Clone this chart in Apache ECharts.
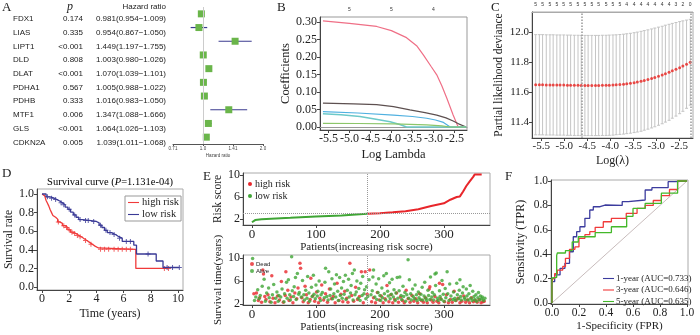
<!DOCTYPE html>
<html>
<head>
<meta charset="utf-8">
<script src="https://cdn.jsdelivr.net/npm/echarts@6/dist/echarts.min.js"></script>
<style>html,body{margin:0;padding:0;background:#fff}#main{width:700px;height:335px}</style>
</head>
<body>
<div id="main"></div>
<script>
// ---- A: univariate cox table + forest
const genes = ['FDX1', 'LIAS', 'LIPT1', 'DLD', 'DLAT', 'PDHA1', 'PDHB', 'MTF1', 'GLS', 'CDKN2A'];
const pValues = ['0.174', '0.335', '<0.001', '0.808', '<0.001', '0.567', '0.333', '0.006', '<0.001', '0.005'];
const hr = [0.981, 0.954, 1.449, 1.003, 1.070, 1.005, 1.016, 1.347, 1.064, 1.039];
const hrLow = [0.954, 0.867, 1.197, 0.980, 1.039, 0.988, 0.983, 1.088, 1.026, 1.011];
const hrHigh = [1.009, 1.050, 1.755, 1.026, 1.101, 1.022, 1.050, 1.666, 1.103, 1.068];

// ---- B: lasso coefficient paths [logLambda, coef]
const pathPink = [[-5.63, 0.303], [-5.0, 0.296], [-4.35, 0.287], [-4.0, 0.275], [-3.64, 0.255], [-3.4, 0.232], [-3.24, 0.206], [-3.05, 0.172], [-2.92, 0.149], [-2.8, 0.118], [-2.68, 0.082], [-2.53, 0.034], [-2.41, 0.0], [-2.22, 0.0]];
const pathBrown = [[-5.63, 0.068], [-4.9, 0.066], [-4.35, 0.064], [-3.95, 0.058], [-3.56, 0.049], [-3.2, 0.041], [-2.92, 0.034], [-2.7, 0.026], [-2.53, 0.017], [-2.4, 0.009], [-2.22, 0.0]];
const pathBlue = [[-5.63, 0.044], [-4.8, 0.040], [-3.95, 0.034], [-3.5, 0.030], [-3.16, 0.025], [-2.95, 0.020], [-2.76, 0.013], [-2.6, 0.0], [-2.22, 0.0]];
const pathTeal = [[-5.63, 0.038], [-5.2, 0.035], [-4.75, 0.030], [-4.4, 0.023], [-4.03, 0.015], [-3.8, 0.007], [-3.64, 0.0], [-2.22, 0.0]];
const pathGreen = [[-5.63, 0.0105], [-4.8, 0.0100], [-3.95, 0.009], [-3.16, 0.006], [-2.8, 0.003], [-2.6, 0.0], [-2.22, 0.0]];
const lambdaTicks = [-5.5, -5.0, -4.5, -4.0, -3.5, -3.0, -2.5];
const coefTicks = [0, 0.05, 0.10, 0.15, 0.20, 0.25, 0.30];
const dfTopPosB = [-5, -4, -3];
const dfTopB = ['5', '5', '4'];

// ---- C: cross validation
const lambdas = [-5.62, -5.54, -5.47, -5.39, -5.31, -5.24, -5.16, -5.09, -5.01, -4.93, -4.86, -4.78, -4.70, -4.63, -4.55, -4.48, -4.40, -4.32, -4.25, -4.17, -4.09, -4.02, -3.94, -3.87, -3.79, -3.71, -3.64, -3.56, -3.48, -3.41, -3.33, -3.26, -3.18, -3.10, -3.03, -2.95, -2.87, -2.80, -2.72, -2.65, -2.57, -2.49, -2.42, -2.34, -2.26];
const cvMean = [11.648, 11.648, 11.648, 11.647, 11.647, 11.647, 11.646, 11.646, 11.646, 11.645, 11.645, 11.644, 11.644, 11.643, 11.643, 11.643, 11.643, 11.643, 11.643, 11.644, 11.644, 11.645, 11.646, 11.648, 11.650, 11.652, 11.655, 11.658, 11.662, 11.666, 11.671, 11.677, 11.683, 11.690, 11.697, 11.705, 11.713, 11.722, 11.731, 11.741, 11.751, 11.762, 11.773, 11.785, 11.798];
const cvUpper = [11.982, 11.982, 11.982, 11.981, 11.981, 11.981, 11.980, 11.980, 11.980, 11.979, 11.979, 11.978, 11.978, 11.977, 11.977, 11.977, 11.977, 11.977, 11.977, 11.978, 11.978, 11.979, 11.980, 11.981, 11.983, 11.985, 11.988, 11.991, 11.995, 11.999, 12.004, 12.009, 12.014, 12.020, 12.026, 12.032, 12.038, 12.045, 12.051, 12.057, 12.063, 12.069, 12.074, 12.079, 12.084];
const cvLower = [11.314, 11.314, 11.314, 11.313, 11.313, 11.313, 11.312, 11.312, 11.312, 11.311, 11.311, 11.310, 11.310, 11.309, 11.309, 11.309, 11.309, 11.309, 11.309, 11.310, 11.310, 11.311, 11.312, 11.315, 11.317, 11.319, 11.322, 11.325, 11.329, 11.333, 11.338, 11.345, 11.352, 11.360, 11.368, 11.378, 11.388, 11.399, 11.411, 11.425, 11.439, 11.455, 11.471, 11.491, 11.512];
const devianceTicks = [11.4, 11.6, 11.8, 12.0];
const dfTopPosC = [-5.62, -5.47, -5.31, -5.16, -5.01, -4.86, -4.70, -4.55, -4.40, -4.25, -4.09, -3.94, -3.79, -3.64, -3.48, -3.33, -3.18, -3.03, -2.87, -2.72, -2.57, -2.42, -2.26];
const dfTopC = ['5', '5', '5', '5', '5', '5', '5', '5', '5', '5', '5', '5', '5', '4', '4', '4', '4', '4', '4', '4', '3', '2', '0'];
const lambdaMin = -4.61, lambda1se = -2.24;

// ---- D: Kaplan-Meier [years, survival]
const kmHigh = [[0, 1.0], [0.1, 0.98], [0.2, 0.96], [0.3, 0.93], [0.4, 0.90], [0.5, 0.87], [0.6, 0.83], [0.7, 0.80], [0.8, 0.77], [0.9, 0.75], [1.0, 0.73], [1.15, 0.70], [1.3, 0.685], [1.5, 0.66], [1.7, 0.64], [1.9, 0.615], [2.1, 0.59], [2.3, 0.575], [2.5, 0.555], [2.7, 0.54], [2.9, 0.52], [3.1, 0.50], [3.3, 0.48], [3.5, 0.46], [3.7, 0.44], [3.9, 0.42], [4.15, 0.405], [6.9, 0.20], [9.3, 0.20]];
const kmLow = [[0, 1.0], [0.3, 0.97], [0.6, 0.955], [0.9, 0.94], [1.1, 0.925], [1.3, 0.905], [1.5, 0.885], [1.7, 0.86], [1.9, 0.835], [2.1, 0.805], [2.3, 0.775], [2.5, 0.75], [2.7, 0.725], [3.0, 0.715], [3.6, 0.705], [4.0, 0.69], [4.2, 0.665], [4.4, 0.64], [4.6, 0.61], [4.8, 0.585], [5.1, 0.565], [5.4, 0.545], [5.6, 0.525], [5.9, 0.49], [6.75, 0.45], [6.95, 0.355], [8.4, 0.28], [8.9, 0.21], [10.1, 0.21]];
const censorHigh = [[1.2, 0.70], [1.6, 0.66], [1.8, 0.64], [2.0, 0.615], [2.2, 0.59], [2.4, 0.575], [2.6, 0.555], [2.8, 0.54], [3.2, 0.50], [3.6, 0.46], [4.3, 0.405], [4.6, 0.405], [4.9, 0.405], [5.3, 0.405], [5.6, 0.405], [5.9, 0.405], [6.2, 0.405], [6.5, 0.405], [9.0, 0.20], [9.3, 0.20]];
const censorLow = [[0.4, 0.97], [0.7, 0.955], [1.0, 0.94], [1.4, 0.905], [1.6, 0.885], [2.0, 0.835], [2.4, 0.775], [2.8, 0.725], [3.2, 0.715], [3.4, 0.715], [3.8, 0.705], [4.3, 0.665], [4.7, 0.61], [5.0, 0.585], [5.3, 0.565], [5.7, 0.525], [6.2, 0.49], [6.5, 0.49], [7.8, 0.355], [9.2, 0.21], [9.6, 0.21], [10.1, 0.21]];
const timeTicks = [0, 2, 4, 6, 8, 10];
const rateTicks = [0, 0.2, 0.4, 0.6, 0.8, 1.0];

// ---- E: risk curve and survival status
const riskCut = 180, riskCutScore = 2.95;
const riskLow = [[0, 1.4], [2, 1.65], [5, 1.8], [15, 1.95], [30, 2.05], [60, 2.2], [100, 2.45], [140, 2.65], [180, 2.95]];
const riskHigh = [[180, 2.95], [200, 3.05], [220, 3.2], [240, 3.4], [260, 3.75], [280, 4.35], [300, 4.85], [310, 5.5], [320, 6.0], [325, 6.1], [330, 7.0], [335, 8.0], [340, 8.8], [346, 9.7], [348, 10.1], [359, 10.1]];
const dead = [[3, 3.8], [7, 3.9], [10, 2.6], [12, 3.1], [15, 2.3], [17, 7.9], [18, 7.2], [20, 3.3], [22, 2.8], [25, 3.6], [28, 2.4], [31, 6.9], [33, 3.0], [36, 2.2], [40, 3.4], [43, 2.7], [46, 5.9], [49, 2.3], [52, 3.5], [53, 7.6], [56, 4.4], [58, 2.6], [61, 3.2], [64, 2.2], [67, 3.9], [70, 2.9], [72, 4.8], [75, 9.1], [76, 8.2], [78, 3.1], [80, 2.4], [83, 5.1], [85, 3.6], [88, 2.2], [91, 2.8], [92, 6.5], [95, 3.4], [98, 2.5], [101, 4.1], [104, 2.2], [106, 3.0], [109, 5.3], [112, 2.7], [115, 3.8], [118, 2.3], [121, 4.6], [124, 2.9], [127, 3.3], [130, 2.2], [133, 5.6], [136, 2.6], [139, 3.7], [142, 2.4], [145, 4.2], [148, 3.0], [150, 2.3], [153, 9.1], [156, 3.5], [159, 2.5], [162, 4.9], [165, 2.8], [168, 3.3], [171, 7.6], [174, 2.2], [177, 7.6], [180, 3.7], [184, 7.9], [187, 2.4], [190, 3.1], [193, 2.2], [196, 4.0], [199, 2.7], [202, 3.4], [205, 2.2], [208, 2.9], [211, 5.2], [214, 2.4], [217, 3.6], [220, 2.2], [223, 2.8], [226, 3.9], [229, 2.3], [232, 3.2], [235, 2.6], [238, 2.2], [241, 4.4], [244, 2.9], [247, 2.3], [250, 3.5], [253, 2.5], [256, 2.9], [259, 2.2], [262, 3.8], [265, 2.6], [268, 2.3], [271, 3.1], [274, 2.2], [277, 4.6], [278, 5.0], [280, 2.7], [283, 2.3], [286, 3.3], [289, 2.5], [292, 2.2], [293, 5.6], [295, 2.9], [298, 5.4], [301, 2.4], [304, 3.6], [307, 2.2], [310, 2.8], [313, 2.3], [316, 4.2], [319, 2.6], [322, 3.0], [325, 2.2], [328, 2.5], [331, 3.4], [334, 2.3], [337, 2.7], [340, 2.2], [343, 3.1], [346, 2.4], [349, 2.6], [352, 2.3], [355, 2.8], [358, 2.2], [361, 2.4], [363, 2.5]];
const alive = [[1, 9.9], [4, 2.6], [6, 3.2], [9, 4.5], [11, 2.9], [13, 3.5], [16, 5.1], [19, 6.3], [21, 2.5], [23, 3.9], [26, 4.8], [27, 3.1], [30, 2.3], [32, 3.6], [34, 5.4], [37, 3.0], [39, 4.1], [41, 2.5], [42, 3.5], [45, 3.2], [47, 4.6], [50, 2.4], [51, 3.8], [54, 5.8], [55, 3.0], [57, 6.2], [59, 3.6], [60, 2.7], [62, 10.2], [63, 4.3], [65, 3.3], [66, 5.0], [68, 6.6], [69, 2.8], [71, 7.3], [73, 3.7], [74, 4.0], [77, 3.2], [79, 6.1], [81, 3.6], [82, 2.7], [84, 4.4], [86, 3.0], [87, 6.8], [89, 3.9], [90, 2.5], [93, 4.9], [94, 3.3], [96, 7.0], [97, 3.7], [99, 2.9], [100, 5.3], [102, 3.4], [103, 4.2], [105, 6.0], [107, 2.6], [108, 3.6], [110, 4.0], [113, 3.1], [114, 5.8], [115, 8.2], [117, 3.3], [119, 2.7], [120, 7.6], [122, 3.5], [123, 4.6], [125, 6.4], [126, 2.9], [128, 3.8], [129, 5.5], [131, 3.2], [132, 7.1], [134, 4.2], [135, 2.6], [137, 6.6], [138, 3.5], [140, 4.8], [141, 3.0], [143, 5.9], [144, 3.7], [146, 7.0], [147, 2.8], [149, 4.4], [151, 6.3], [152, 3.2], [154, 3.9], [155, 5.2], [157, 7.3], [158, 2.7], [160, 7.9], [161, 3.6], [163, 4.1], [164, 6.0], [166, 3.0], [167, 4.7], [169, 2.6], [170, 5.6], [172, 3.5], [173, 6.8], [175, 3.8], [176, 4.5], [178, 2.9], [179, 5.0], [181, 3.3], [183, 6.2], [186, 3.6], [188, 4.3], [189, 6.7], [190, 7.9], [192, 3.2], [194, 5.5], [195, 2.8], [197, 4.0], [198, 6.4], [200, 3.5], [201, 2.6], [203, 4.8], [204, 3.1], [206, 6.9], [207, 3.8], [209, 2.7], [210, 7.3], [212, 4.2], [213, 3.4], [215, 5.7], [216, 2.9], [218, 3.7], [219, 6.3], [221, 3.2], [222, 4.5], [224, 2.6], [225, 3.9], [227, 6.6], [228, 3.0], [230, 4.3], [231, 6.7], [233, 3.5], [234, 2.8], [236, 5.1], [237, 3.3], [239, 4.0], [240, 2.5], [242, 3.6], [244, 9.7], [245, 3.0], [246, 6.2], [248, 3.8], [249, 2.7], [251, 4.6], [252, 3.3], [254, 2.9], [255, 5.3], [257, 3.6], [258, 2.6], [260, 4.1], [261, 3.1], [263, 2.8], [264, 3.7], [266, 4.9], [267, 2.7], [269, 3.4], [270, 5.8], [272, 3.0], [273, 2.6], [275, 4.4], [276, 3.5], [278, 2.8], [279, 6.7], [281, 3.2], [282, 4.0], [284, 2.7], [285, 3.6], [286, 7.2], [287, 5.2], [288, 7.4], [290, 3.0], [291, 2.6], [293, 4.3], [294, 3.3], [296, 2.8], [297, 6.1], [299, 3.7], [300, 2.5], [302, 4.7], [303, 3.1], [305, 7.6], [306, 3.8], [308, 2.6], [309, 5.5], [311, 3.4], [314, 2.8], [315, 4.1], [317, 3.0], [318, 2.6], [320, 5.6], [321, 3.6], [323, 2.9], [324, 4.4], [325, 6.2], [326, 3.3], [327, 2.7], [329, 3.9], [330, 5.0], [332, 3.1], [333, 2.8], [335, 4.6], [336, 3.4], [338, 2.7], [339, 3.8], [341, 5.2], [342, 3.0], [344, 2.6], [345, 4.2], [347, 3.3], [348, 2.8], [350, 3.6], [351, 2.5], [353, 3.1], [354, 4.0], [356, 2.7], [357, 3.4], [359, 2.9], [360, 3.2], [362, 2.6], [364, 3.0]];
const patientTicks = [0, 100, 200, 300];
const scoreTicks = [2, 4, 6, 8, 10];

// ---- F: time dependent ROC [FPR, TPR]
const roc1 = [[0, 0], [0.0, 0.12], [0.02, 0.175], [0.06, 0.23], [0.096, 0.284], [0.13, 0.325], [0.158, 0.42], [0.183, 0.543], [0.207, 0.585], [0.244, 0.625], [0.28, 0.694], [0.306, 0.762], [0.356, 0.789], [0.393, 0.803], [0.52, 0.80], [0.565, 0.83], [0.69, 0.844], [0.74, 0.926], [0.86, 0.945], [0.91, 0.994], [1, 1]];
const roc3 = [[0, 0], [0.005, 0.15], [0.02, 0.2], [0.04, 0.24], [0.08, 0.27], [0.1, 0.3], [0.13, 0.366], [0.17, 0.44], [0.2, 0.46], [0.244, 0.53], [0.28, 0.56], [0.32, 0.585], [0.38, 0.62], [0.44, 0.666], [0.55, 0.694], [0.63, 0.735], [0.69, 0.776], [0.75, 0.80], [0.81, 0.84], [0.87, 0.88], [0.93, 0.93], [1, 1]];
const roc5 = [[0, 0], [0.0, 0.205], [0.035, 0.21], [0.04, 0.39], [0.1, 0.41], [0.15, 0.43], [0.195, 0.50], [0.32, 0.543], [0.44, 0.577], [0.553, 0.625], [0.6, 0.71], [0.69, 0.775], [0.81, 0.817], [0.93, 0.90], [1, 1]];
const rocNames = ['1-year (AUC=0.733)', '3-year (AUC=0.646)', '5-year (AUC=0.635)'];
const rocTicks = [0, 0.2, 0.4, 0.6, 0.8, 1.0];

const serif = "'Liberation Serif', 'Times New Roman', serif";
const sans = "'Liberation Sans', Arial, sans-serif";
const axisColor = '#444';

function valAxis(grid, min, max, ticks, fontSize, digits, extra) {
    return Object.assign({
        type: 'value',
        gridIndex: grid,
        min: min,
        max: max,
        axisLine: { show: true, onZero: false, lineStyle: { color: axisColor } },
        axisTick: { show: true, inside: false, length: 3, customValues: ticks, lineStyle: { color: axisColor } },
        splitLine: { show: false },
        axisLabel: {
            fontFamily: serif, fontSize: fontSize, color: '#222', margin: 3, customValues: ticks,
            showMinLabel: true, showMaxLabel: true, hideOverlap: false,
            formatter: v => digits == null ? String(v) : v.toFixed(digits)
        },
        nameLocation: 'middle',
        nameTextStyle: { fontFamily: serif, fontSize: 12, color: '#222' }
    }, extra || {})
}
function nameStyle(size) {
    return { fontFamily: serif, fontSize: size, color: '#222' }
}
// label lookup for the small top "df" axes
function topLabels(pos, labels) {
    return {
        fontFamily: sans, fontSize: 5, color: '#333', margin: 5, customValues: pos,
        showMinLabel: true, showMaxLabel: true, hideOverlap: false,
        formatter: v => {
            const k = pos.findIndex(p => Math.abs(p - v) < 1e-6)
            return k >= 0 ? labels[k] : ''
        }
    }
}

const myChart = echarts.init(document.getElementById('main'))

// table texts of panel A
const tableText = []
const rowH = 13.7
genes.forEach((g, i) => {
    const y = 19 + i * rowH
    const hrTxt = hr[i].toFixed(3) + '(' + hrLow[i].toFixed(3) + '\u2212' + hrHigh[i].toFixed(3) + ')'
    tableText.push({ type: 'text', style: { text: g, x: 13, y: y, fontFamily: sans, fontSize: 8, fill: '#222', verticalAlign: 'middle' } })
    tableText.push({ type: 'text', style: { text: pValues[i], x: 83, y: y, fontFamily: sans, fontSize: 8, fill: '#222', align: 'right', verticalAlign: 'middle' } })
    tableText.push({ type: 'text', style: { text: hrTxt, x: 166, y: y, fontFamily: sans, fontSize: 8, fill: '#222', align: 'right', verticalAlign: 'middle' } })
})
const letters = [['A', 2, 1], ['B', 277, 1], ['C', 491, 1], ['D', 2, 167], ['E', 203, 170], ['F', 505, 170]]
letters.forEach(l => {
    tableText.push({ type: 'text', style: { text: l[0], x: l[1], y: l[2], fontFamily: serif, fontSize: 13, fill: '#222' } })
})
tableText.push({ type: 'text', style: { text: 'p', x: 70, y: 7, fontFamily: serif, fontSize: 12, fontStyle: 'italic', fill: '#222', align: 'center', verticalAlign: 'middle' } })
tableText.push({ type: 'text', style: { text: 'Hazard ratio', x: 166, y: 7, fontFamily: sans, fontSize: 8, fill: '#222', align: 'right', verticalAlign: 'middle' } })
tableText.push({
    type: 'text',
    style: {
        text: '{n|Survival curve (}{i|P}{n|=1.131e-04)}', x: 110, y: 182, align: 'center', verticalAlign: 'middle',
        rich: { n: { fontFamily: serif, fontSize: 10.5, color: '#222' }, i: { fontFamily: serif, fontSize: 10.5, fontStyle: 'italic', color: '#222' } }
    }
})

const dotted = { type: 'dotted', color: '#999', width: 1 }
const lineIcon = 'path://M0,0h20v2h-20z'

const option = {
    animation: false,
    backgroundColor: '#fff',
    graphic: tableText,
    grid: [
        { left: 173, top: 7, width: 90, height: 137 },
        { left: 320, top: 17, width: 147, height: 113, show: true, borderColor: '#999' },
        { left: 532, top: 12, width: 161, height: 126, show: true, borderColor: '#aaa' },
        { left: 37, top: 189, width: 146, height: 101, show: true, borderColor: '#aaa' },
        { left: 243, top: 173, width: 247, height: 52, show: true, borderColor: '#aaa' },
        { left: 243, top: 255, width: 247, height: 50, show: true, borderColor: '#aaa' },
        { left: 551, top: 180, width: 137, height: 124, show: true, borderColor: '#aaa' }
    ],
    legend: [
        {
            data: [
                { name: 'high risk', icon: lineIcon, itemStyle: { color: '#f03a3a' } },
                { name: 'low risk', icon: lineIcon, itemStyle: { color: '#3a3a96' } }
            ],
            left: 125, top: 196, orient: 'vertical', itemWidth: 11, itemHeight: 1.5, itemGap: 1,
            borderColor: '#999', borderWidth: 1, padding: [1, 2, 1, 3],
            textStyle: { fontFamily: serif, fontSize: 10.5, color: '#222', padding: [0, 0, 0, -2] }
        },
        {
            data: [
                { name: 'high risk', icon: 'circle', itemStyle: { color: '#e8262b' } },
                { name: 'low risk', icon: 'circle', itemStyle: { color: '#3fa535' } }
            ],
            left: 243, top: 174, orient: 'vertical', itemWidth: 4, itemHeight: 4, itemGap: 2,
            textStyle: { fontFamily: serif, fontSize: 10, color: '#222', padding: [0, 0, 0, -2] }
        },
        {
            data: ['Dead', 'Alive'], left: 245, top: 256, orient: 'vertical', itemWidth: 4, itemHeight: 4, itemGap: 1, icon: 'circle',
            textStyle: { fontFamily: sans, fontSize: 6, color: '#222', padding: [0, 0, 0, -3] }
        },
        {
            data: rocNames.map((n, i) => ({ name: n, icon: lineIcon, itemStyle: { color: ['#3c3c9e', '#f03a3a', '#44b82a'][i] } })),
            left: 598, top: 269, orient: 'vertical', itemWidth: 11, itemHeight: 1.5, itemGap: 2.5,
            textStyle: { fontFamily: serif, fontSize: 9, color: '#222', padding: [0, 0, 0, -3] }
        }
    ],
    xAxis: [
        {
            type: 'log', logBase: Math.SQRT2, gridIndex: 0, min: Math.SQRT1_2, max: 2,
            axisLine: { show: true, lineStyle: { color: '#555' } },
            axisTick: { show: true, length: 2, lineStyle: { color: '#555' } },
            splitLine: { show: false },
            axisLabel: {
                fontFamily: sans, fontSize: 4.5, color: '#444', margin: 2,
                formatter: v => { const s = Math.round(v * 100) / 100; return (s === 1 || s === 2) ? s.toFixed(1) : String(s) }
            },
            name: 'Hazard ratio', nameLocation: 'middle', nameGap: 9,
            nameTextStyle: { fontFamily: sans, fontSize: 4.5, color: '#444' }
        },
        valAxis(1, -5.7, -2.2, lambdaTicks, 12, 1, { name: 'Log Lambda', nameGap: 18, nameTextStyle: nameStyle(12.5) }),
        valAxis(1, -5.7, -2.2, dfTopPosB, 5, null, {
            position: 'top', axisTick: { show: false }, axisLine: { show: true, lineStyle: { color: '#999' } },
            axisLabel: topLabels(dfTopPosB, dfTopB)
        }),
        valAxis(2, -5.7, -2.2, lambdaTicks, 11, 1, { name: 'Log(\u03bb)', nameGap: 17, nameTextStyle: nameStyle(12) }),
        valAxis(2, -5.7, -2.2, dfTopPosC, 5, null, {
            position: 'top', axisTick: { show: false }, axisLine: { show: true, lineStyle: { color: '#aaa' } },
            axisLabel: topLabels(dfTopPosC, dfTopC)
        }),
        valAxis(3, -0.37, 10.37, timeTicks, 12, null, { name: 'Time (years)', nameGap: 18, nameTextStyle: nameStyle(12) }),
        valAxis(4, -14, 372, patientTicks, 13, null, { name: 'Patients(increasing risk socre)', nameGap: 15, nameTextStyle: nameStyle(11) }),
        valAxis(5, -14, 372, patientTicks, 13, null, { name: 'Patients(increasing risk socre)', nameGap: 15, nameTextStyle: nameStyle(11) }),
        valAxis(6, -0.007, 1.007, rocTicks, 11.5, 1, { name: '1-Specificity (FPR)', nameGap: 17, nameTextStyle: nameStyle(11) })
    ],
    yAxis: [
        { type: 'category', gridIndex: 0, data: genes, inverse: true, show: false },
        valAxis(1, -0.0086, 0.314, coefTicks, 12, 2, { name: 'Coefficients', nameGap: 28, nameTextStyle: nameStyle(12.5) }),
        valAxis(2, 11.293, 12.133, devianceTicks, 11, 1, { name: 'Partial likelihood deviance', nameGap: 27, nameTextStyle: nameStyle(11.5) }),
        valAxis(3, -0.032, 1.054, rateTicks, 12, 1, { name: 'Survival rate', nameGap: 21, nameTextStyle: nameStyle(11.5) }),
        valAxis(4, 0.9, 10.36, scoreTicks, 12, null, { name: 'Risk score', nameGap: 18, nameTextStyle: nameStyle(11.5) }),
        valAxis(5, 1.83, 10.52, scoreTicks, 12, null, { name: 'Survival time(years)', nameGap: 18, nameTextStyle: nameStyle(11) }),
        valAxis(6, -0.008, 1.008, rocTicks, 11.5, 1, { name: 'Sensitivity (TPR)', nameGap: 24, nameTextStyle: nameStyle(12) })
    ],
    series: [
        // A forest
        {
            type: 'custom', xAxisIndex: 0, yAxisIndex: 0,
            data: genes.map((g, i) => [hr[i], i, hrLow[i], hrHigh[i]]),
            encode: { x: [0, 2, 3], y: 1 },
            renderItem: (params, api) => {
                const c = api.coord([api.value(0), api.value(1)])
                const lo = api.coord([api.value(2), api.value(1)])
                const hi = api.coord([api.value(3), api.value(1)])
                const s = 7
                return {
                    type: 'group', children: [
                        { type: 'line', shape: { x1: lo[0], y1: c[1], x2: hi[0], y2: c[1] }, style: { stroke: '#3b3b8f', lineWidth: 1.2 } },
                        { type: 'rect', shape: { x: c[0] - s / 2, y: c[1] - s / 2, width: s, height: s }, style: { fill: '#6ab54a' } }
                    ]
                }
            },
            markLine: { silent: true, symbol: 'none', label: { show: false }, lineStyle: { color: '#ccc', type: 'solid', width: 1 }, data: [{ xAxis: 1 }] },
            z: 3
        },
        // B
        { type: 'line', xAxisIndex: 1, yAxisIndex: 1, data: pathPink, showSymbol: false, lineStyle: { color: '#ef6f86', width: 1.2 } },
        { type: 'line', xAxisIndex: 1, yAxisIndex: 1, data: pathBrown, showSymbol: false, lineStyle: { color: '#5d5050', width: 1.2 } },
        { type: 'line', xAxisIndex: 1, yAxisIndex: 1, data: pathBlue, showSymbol: false, lineStyle: { color: '#4fb0e0', width: 1.2 } },
        { type: 'line', xAxisIndex: 1, yAxisIndex: 1, data: pathTeal, showSymbol: false, lineStyle: { color: '#6cc9c9', width: 1.6 } },
        { type: 'line', xAxisIndex: 1, yAxisIndex: 1, data: pathGreen, showSymbol: false, lineStyle: { color: '#8cc66a', width: 1.2 } },
        // C
        {
            type: 'custom', xAxisIndex: 3, yAxisIndex: 2,
            data: lambdas.map((l, i) => [l, cvLower[i], cvUpper[i]]),
            encode: { x: 0, y: [1, 2] },
            renderItem: (params, api) => {
                const p1 = api.coord([api.value(0), api.value(1)])
                const p2 = api.coord([api.value(0), api.value(2)])
                const st = { stroke: '#c4c4c4', lineWidth: 1 }
                return {
                    type: 'group', children: [
                        { type: 'line', shape: { x1: p1[0], y1: p1[1], x2: p2[0], y2: p2[1] }, style: st },
                        { type: 'line', shape: { x1: p1[0] - 1.5, y1: p1[1], x2: p1[0] + 1.5, y2: p1[1] }, style: st },
                        { type: 'line', shape: { x1: p2[0] - 1.5, y1: p2[1], x2: p2[0] + 1.5, y2: p2[1] }, style: st }
                    ]
                }
            }
        },
        {
            type: 'scatter', xAxisIndex: 3, yAxisIndex: 2, data: lambdas.map((l, i) => [l, cvMean[i]]),
            symbolSize: 3, itemStyle: { color: '#e8231f' }, z: 4,
            markLine: { silent: true, symbol: 'none', label: { show: false }, lineStyle: { type: 'dotted', color: '#999', width: 1.5 }, data: [{ xAxis: lambdaMin }, { xAxis: lambda1se }] }
        },
        // D
        { name: 'high risk', type: 'line', step: 'end', xAxisIndex: 5, yAxisIndex: 3, data: kmHigh, showSymbol: false, symbol: 'none', lineStyle: { color: '#f03a3a', width: 1.3 }, itemStyle: { color: '#f03a3a' } },
        { name: 'low risk', type: 'line', step: 'end', xAxisIndex: 5, yAxisIndex: 3, data: kmLow, showSymbol: false, symbol: 'none', lineStyle: { color: '#3a3a96', width: 1.3 }, itemStyle: { color: '#3a3a96' } },
        { type: 'scatter', xAxisIndex: 5, yAxisIndex: 3, data: censorHigh, symbol: 'path://M4,0h2v4h4v2h-4v4h-2v-4h-4v-2h4z', symbolSize: 5, itemStyle: { color: '#f03a3a' } },
        { type: 'scatter', xAxisIndex: 5, yAxisIndex: 3, data: censorLow, symbol: 'path://M4,0h2v4h4v2h-4v4h-2v-4h-4v-2h4z', symbolSize: 5, itemStyle: { color: '#3a3a96' } },
        // E top
        {
            name: 'low risk', type: 'line', xAxisIndex: 6, yAxisIndex: 4, data: riskLow, showSymbol: false, symbol: 'none', lineStyle: { color: '#3fa535', width: 2 },
            markLine: { silent: true, symbol: 'none', label: { show: false }, lineStyle: dotted, data: [{ xAxis: riskCut }, { yAxis: riskCutScore }] }
        },
        { name: 'high risk', type: 'line', xAxisIndex: 6, yAxisIndex: 4, data: riskHigh, showSymbol: false, symbol: 'none', lineStyle: { color: '#e8262b', width: 2 } },
        // E bottom
        { name: 'Dead', type: 'scatter', xAxisIndex: 7, yAxisIndex: 5, data: dead, symbolSize: 3.5, itemStyle: { color: '#e8262b' } },
        {
            name: 'Alive', type: 'scatter', xAxisIndex: 7, yAxisIndex: 5, data: alive, symbolSize: 3.5, itemStyle: { color: '#3fa535' },
            markLine: { silent: true, symbol: 'none', label: { show: false }, lineStyle: dotted, data: [{ xAxis: riskCut }] }
        },
        // F
        { type: 'line', xAxisIndex: 8, yAxisIndex: 6, data: [[0, 0], [1, 1]], showSymbol: false, symbol: 'none', lineStyle: { color: '#c8bcbc', width: 1 } },
        { name: rocNames[0], type: 'line', step: 'start', xAxisIndex: 8, yAxisIndex: 6, data: roc1, showSymbol: false, symbol: 'none', lineStyle: { color: '#3c3c9e', width: 1.3 }, itemStyle: { color: '#3c3c9e' } },
        { name: rocNames[1], type: 'line', step: 'start', xAxisIndex: 8, yAxisIndex: 6, data: roc3, showSymbol: false, symbol: 'none', lineStyle: { color: '#f03a3a', width: 1.3 }, itemStyle: { color: '#f03a3a' } },
        { name: rocNames[2], type: 'line', step: 'start', xAxisIndex: 8, yAxisIndex: 6, data: roc5, showSymbol: false, symbol: 'none', lineStyle: { color: '#44b82a', width: 1.3 }, itemStyle: { color: '#44b82a' } }
    ]
}
myChart.setOption(option)
</script>
</body>
</html>
